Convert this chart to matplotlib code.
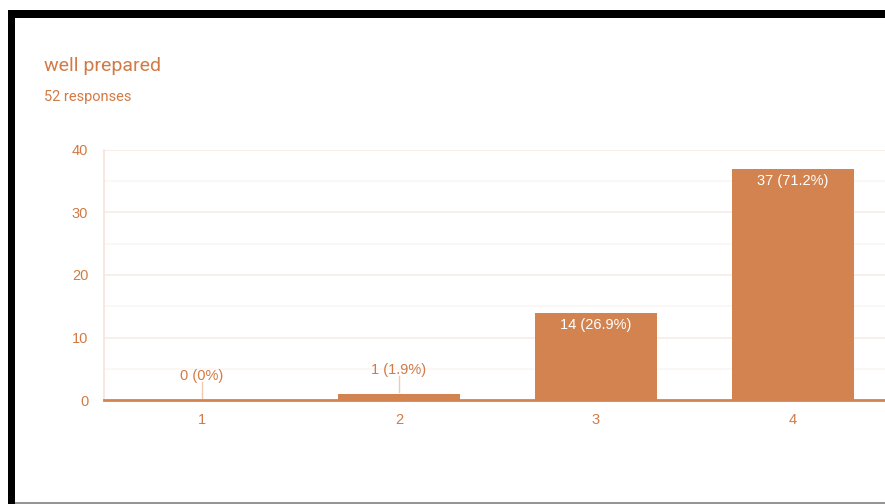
import matplotlib
matplotlib.use("Agg")
import matplotlib.pyplot as plt
from matplotlib.patches import Rectangle
from matplotlib.lines import Line2D

categories = ["1", "2", "3", "4"]
counts = [0, 1, 14, 37]
percents = ["0%", "1.9%", "26.9%", "71.2%"]
title = "well prepared"
subtitle = "52 responses"
yticks = [0, 10, 20, 30, 40]

W, H = 885, 504
fig = plt.figure(figsize=(W / 100, H / 100), dpi=100)
fig.patch.set_facecolor("white")

orange = "#d3834f"
text_orange = "#d27a45"

def fx(px):
    return px / W

def fy(py):
    return 1 - py / H

# black frame (screenshot border)
fig.patches.append(Rectangle((fx(8), fy(18)), fx(W - 8), 8 / H, transform=fig.transFigure,
                             facecolor="black", edgecolor="none", zorder=10))
fig.patches.append(Rectangle((fx(8), 0), 7 / W, fy(10), transform=fig.transFigure,
                             facecolor="black", edgecolor="none", zorder=10))
fig.lines.append(Line2D([fx(15), 1], [fy(503), fy(503)], transform=fig.transFigure,
                        color="#808080", lw=1.2))

left, right, top, bottom = 103.5, 891.5, 150, 400
ax = fig.add_axes([fx(left), fy(bottom), (right - left) / W, (bottom - top) / H])
x = list(range(1, len(categories) + 1))
ax.bar(x, counts, width=0.62, color=orange, zorder=3)
ax.set_xlim(0.5, len(categories) + 0.5)
ax.set_ylim(0, 40)

for y in range(5, 41, 5):
    c = "#f7ece6" if y % 10 == 0 else "#fbf6f3"
    ax.axhline(y, color=c, lw=1.2, zorder=1)

for s in ["top", "right"]:
    ax.spines[s].set_visible(False)
ax.spines["left"].set_color("#f6e3d8")
ax.spines["left"].set_linewidth(1.2)
ax.spines["bottom"].set_color(orange)
ax.spines["bottom"].set_linewidth(2)
ax.spines["bottom"].set_zorder(4)

ax.set_yticks(yticks)
ax.set_xticks(x)
ax.set_xticklabels(categories)
ax.tick_params(axis="both", length=0, labelcolor=text_orange, labelsize=10.5)
ax.tick_params(axis="y", pad=11)
ax.tick_params(axis="x", pad=9)
for lab in ax.get_xticklabels() + ax.get_yticklabels():
    lab.set_fontfamily("Liberation Sans")

for xi, c, p in zip(x, counts, percents):
    label = f"{c} ({p})"
    if c >= 5:
        ax.annotate(label, (xi, c), xytext=(0, -8.7), textcoords="offset points",
                    ha="center", va="center", color="white", fontsize=10.5,
                    family="Liberation Sans", zorder=5)
    else:
        ax.annotate(label, (xi, c), xytext=(0, 17.3), textcoords="offset points",
                    ha="center", va="center", color=text_orange, fontsize=10.5,
                    family="Liberation Sans", zorder=5)
        ax.plot([xi, xi], [c + 0.3, c + 2.9], color="#f0c9b0", lw=1, zorder=4)

fig.text(fx(44), fy(66), title, fontsize=14, color=text_orange, family="Roboto",
         ha="left", va="center")
fig.text(fx(44), fy(97), subtitle, fontsize=10.5, color=text_orange, family="Roboto",
         ha="left", va="center")

fig.savefig("out.png", dpi=100)
